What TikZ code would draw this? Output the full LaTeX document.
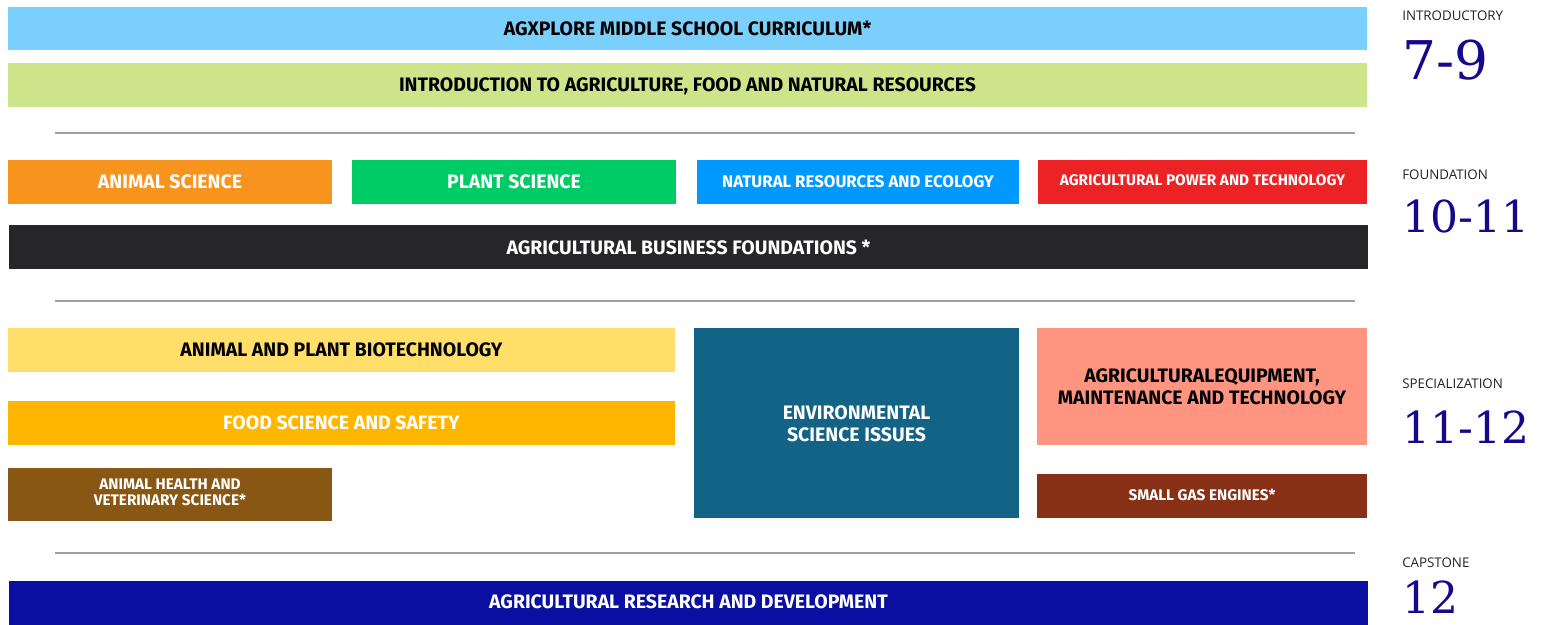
\documentclass[tikz,border=0pt]{standalone}
\usepackage{fontspec}
\setmainfont{Open Sans}
\newfontfamily\tilefont{Fira Sans}
\newfontfamily\gradefont{DejaVu Serif}

\begin{document}
\begin{tikzpicture}[x=0.75pt,y=0.75pt,yscale=-1,xscale=1,
  tiletext/.style={inner sep=0.75pt, align=center, text depth=0pt, font=\tilefont\bfseries\fontsize{14.6}{17}\selectfont},
  smalltext/.style={tiletext, font=\tilefont\bfseries\fontsize{11.5}{12}\selectfont},
  levellabel/.style={anchor=base west, inner sep=0pt, font=\fontsize{10}{12}\selectfont, color={rgb, 255:red, 34; green, 34; blue, 34 }},
  gradelabel/.style={anchor=base west, inner sep=0pt, text depth=0pt, font=\gradefont\fontsize{33}{36}\selectfont, color={rgb, 255:red, 22; green, 8; blue, 140 }},
  divider/.style={color={rgb, 255:red, 160; green, 160; blue, 160 }, line width=1.5pt}
]
\useasboundingbox (0,0) rectangle (1551,624);

%Rectangle: agxplore
\fill [color={rgb, 255:red, 122; green, 207; blue, 251 }] (8,7) rectangle (1367,50);
%Rectangle: introduction
\fill [color={rgb, 255:red, 206; green, 228; blue, 138 }] (8,63) rectangle (1367,107);
%Straight Line
\draw [divider] (55,133) -- (1355,133);

%Rectangle: animal science
\fill [color={rgb, 255:red, 247; green, 148; blue, 30 }] (8,160) rectangle (332,204);
%Rectangle: plant science
\fill [color={rgb, 255:red, 0; green, 204; blue, 102 }] (352,160) rectangle (676,204);
%Rectangle: natural resources
\fill [color={rgb, 255:red, 0; green, 153; blue, 255 }] (697,160) rectangle (1019,204);
%Rectangle: power and technology
\fill [color={rgb, 255:red, 237; green, 34; blue, 36 }] (1038,160) rectangle (1367,204);
%Rectangle: business
\fill [color={rgb, 255:red, 38; green, 38; blue, 40 }] (9,225) rectangle (1368,269);
%Straight Line
\draw [divider] (55,301) -- (1355,301);

%Rectangle: biotechnology
\fill [color={rgb, 255:red, 255; green, 222; blue, 106 }] (8,328) rectangle (675,372);
%Rectangle: food science
\fill [color={rgb, 255:red, 255; green, 182; blue, 0 }] (8,401) rectangle (675,445);
%Rectangle: animal health
\fill [color={rgb, 255:red, 135; green, 87; blue, 19 }] (8,468) rectangle (332,521);
%Rectangle: environmental
\fill [color={rgb, 255:red, 19; green, 99; blue, 135 }] (694,328) rectangle (1019,518);
%Rectangle: equipment
\fill [color={rgb, 255:red, 255; green, 149; blue, 128 }] (1037,328) rectangle (1367,445);
%Rectangle: small gas engines
\fill [color={rgb, 255:red, 135; green, 48; blue, 21 }] (1037,474) rectangle (1367,518);
%Straight Line
\draw [divider] (55,553) -- (1355,553);

%Rectangle: research
\fill [color={rgb, 255:red, 10; green, 15; blue, 161 }] (9,581) rectangle (1368,630);

% Text Node
\draw (687.5,28.5) node (agx) [tiletext] {AGXPLORE MIDDLE SCHOOL CURRICULUM*};
% Text Node
\draw (687.5,85) node (intro) [tiletext] {INTRODUCTION TO AGRICULTURE, FOOD AND NATURAL RESOURCES};
% Text Node
\draw (170,182) node (animal) [tiletext, white] {ANIMAL SCIENCE};
% Text Node
\draw (514,182) node (plant) [tiletext, white] {PLANT SCIENCE};
% Text Node
\draw (858,182) node (natres) [tiletext, white, font=\tilefont\bfseries\fontsize{12.6}{14}\selectfont] {NATURAL RESOURCES AND ECOLOGY};
% Text Node
\draw (1202.5,180.5) node (power) [smalltext, white] {AGRICULTURAL POWER AND TECHNOLOGY};
% Text Node
\draw (688.5,247) node (business) [tiletext, white] {AGRICULTURAL BUSINESS FOUNDATIONS *};
% Text Node
\draw (341.5,350) node (biotech) [tiletext] {ANIMAL AND PLANT BIOTECHNOLOGY};
% Text Node
\draw (341.5,423) node (food) [tiletext, white] {FOOD SCIENCE AND SAFETY};
% Text Node
\draw (170,492.5) node (health) [smalltext, white] {ANIMAL HEALTH AND\\VETERINARY SCIENCE*};
% Text Node
\draw (856.5,423.5) node (environ) [tiletext, white] {ENVIRONMENTAL\\SCIENCE ISSUES};
% Text Node
\draw (1202,386.5) node (equip) [tiletext] {AGRICULTURALEQUIPMENT,\\MAINTENANCE AND TECHNOLOGY};
% Text Node
\draw (1202,495) node (engines) [smalltext, white] {SMALL GAS ENGINES*};
% Text Node
\draw (688.5,602) node (research) [tiletext, white] {AGRICULTURAL RESEARCH AND DEVELOPMENT};

% Text Node
\draw (1402,21) node (intrlvl) [levellabel] {INTRODUCTORY};
% Text Node
\draw (1402,80) node (intrgrade) [gradelabel, font=\gradefont\fontsize{40}{44}\selectfont] {7-9};
% Text Node
\draw (1402,179) node (foundlvl) [levellabel] {FOUNDATION};
% Text Node
\draw (1402,232) node (foundgrade) [gradelabel] {10-11};
% Text Node
\draw (1402,388) node (speclvl) [levellabel] {SPECIALIZATION};
% Text Node
\draw (1402,443) node (specgrade) [gradelabel] {11-12};
% Text Node
\draw (1402,567) node (caplvl) [levellabel] {CAPSTONE};
% Text Node
\draw (1402,613) node (capgrade) [gradelabel] {12};
\end{tikzpicture}
\end{document}
